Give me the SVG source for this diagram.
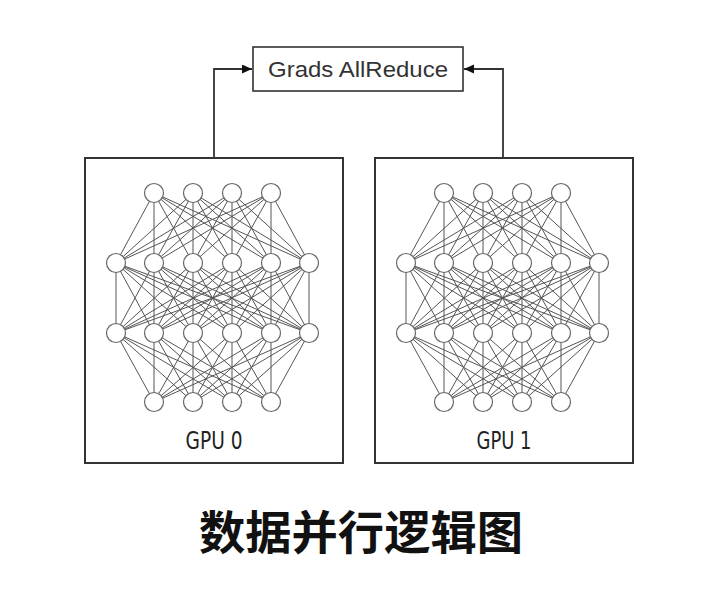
<svg xmlns="http://www.w3.org/2000/svg" xmlns:xlink="http://www.w3.org/1999/xlink" width="720" height="596" viewBox="0 0 720 596">
<style>
.box{fill:#fff;stroke:#333;stroke-width:2}
.gbox{fill:#fff;stroke:#333;stroke-width:1.6}
.conn{fill:none;stroke:#333;stroke-width:1.8}
.edge{fill:none;stroke:#555;stroke-width:1}
.neuron{fill:#fff;stroke:#666;stroke-width:1.2}
.lbl{font-family:"Liberation Sans",Arial,sans-serif;font-size:22px;fill:#333}
.gpu{font-family:"DejaVu Sans Condensed","DejaVu Sans",sans-serif;font-size:25px;fill:#222}
.title{font-family:"Noto Sans CJK SC","Noto Sans CJK JP",sans-serif;font-size:46px;font-weight:bold;fill:#111}
</style>
<defs>
<marker id="arr" markerUnits="userSpaceOnUse" markerWidth="12" markerHeight="10" refX="10" refY="4.5" orient="auto">
<path d="M0 0L10 4.5L0 9Z" fill="#111"/>
</marker>
<g id="net">
<path class="edge" d="M154 193L116 263M154 193L154 263M154 193L193 263M154 193L232 263M154 193L271 263M154 193L309 263
M193 193L116 263M193 193L154 263M193 193L193 263M193 193L232 263M193 193L271 263M193 193L309 263
M232 193L116 263M232 193L154 263M232 193L193 263M232 193L232 263M232 193L271 263M232 193L309 263
M271 193L116 263M271 193L154 263M271 193L193 263M271 193L232 263M271 193L271 263M271 193L309 263
M116 263L116 333M116 263L154 333M116 263L193 333M116 263L232 333M116 263L271 333M116 263L309 333
M154 263L116 333M154 263L154 333M154 263L193 333M154 263L232 333M154 263L271 333M154 263L309 333
M193 263L116 333M193 263L154 333M193 263L193 333M193 263L232 333M193 263L271 333M193 263L309 333
M232 263L116 333M232 263L154 333M232 263L193 333M232 263L232 333M232 263L271 333M232 263L309 333
M271 263L116 333M271 263L154 333M271 263L193 333M271 263L232 333M271 263L271 333M271 263L309 333
M309 263L116 333M309 263L154 333M309 263L193 333M309 263L232 333M309 263L271 333M309 263L309 333
M116 333L154 402M116 333L193 402M116 333L232 402M116 333L271 402
M154 333L154 402M154 333L193 402M154 333L232 402M154 333L271 402
M193 333L154 402M193 333L193 402M193 333L232 402M193 333L271 402
M232 333L154 402M232 333L193 402M232 333L232 402M232 333L271 402
M271 333L154 402M271 333L193 402M271 333L232 402M271 333L271 402
M309 333L154 402M309 333L193 402M309 333L232 402M309 333L271 402"/>
<g class="neuron">
<circle cx="154" cy="193" r="9.5"/><circle cx="193" cy="193" r="9.5"/><circle cx="232" cy="193" r="9.5"/><circle cx="271" cy="193" r="9.5"/>
<circle cx="116" cy="263" r="9.5"/><circle cx="154" cy="263" r="9.5"/><circle cx="193" cy="263" r="9.5"/><circle cx="232" cy="263" r="9.5"/><circle cx="271" cy="263" r="9.5"/><circle cx="309" cy="263" r="9.5"/>
<circle cx="116" cy="333" r="9.5"/><circle cx="154" cy="333" r="9.5"/><circle cx="193" cy="333" r="9.5"/><circle cx="232" cy="333" r="9.5"/><circle cx="271" cy="333" r="9.5"/><circle cx="309" cy="333" r="9.5"/>
<circle cx="154" cy="402" r="9.5"/><circle cx="193" cy="402" r="9.5"/><circle cx="232" cy="402" r="9.5"/><circle cx="271" cy="402" r="9.5"/>
</g>
</g>
</defs>
<rect width="720" height="596" fill="#fff"/>
<g id="connectors">
<path class="conn" d="M214 157V69H252" marker-end="url(#arr)"/>
<path class="conn" d="M503 157V69H464" marker-end="url(#arr)"/>
</g>
<g id="grads">
<rect class="gbox" x="253" y="47" width="210" height="44"/>
<text class="lbl" x="358" y="77" text-anchor="middle" textLength="180" lengthAdjust="spacingAndGlyphs">Grads AllReduce</text>
</g>
<g id="gpu0">
<rect class="box" x="85" y="158" width="258" height="305"/>
<use xlink:href="#net"/>
<text class="gpu" x="214" y="449" text-anchor="middle" textLength="57" lengthAdjust="spacingAndGlyphs">GPU 0</text>
</g>
<g id="gpu1">
<rect class="box" x="375" y="158" width="258" height="305"/>
<use xlink:href="#net" transform="translate(290 0)"/>
<text class="gpu" x="504" y="449" text-anchor="middle" textLength="55" lengthAdjust="spacingAndGlyphs">GPU 1</text>
</g>
<text class="title" x="361" y="549" text-anchor="middle" textLength="324" lengthAdjust="spacingAndGlyphs">数据并行逻辑图</text>
</svg>
